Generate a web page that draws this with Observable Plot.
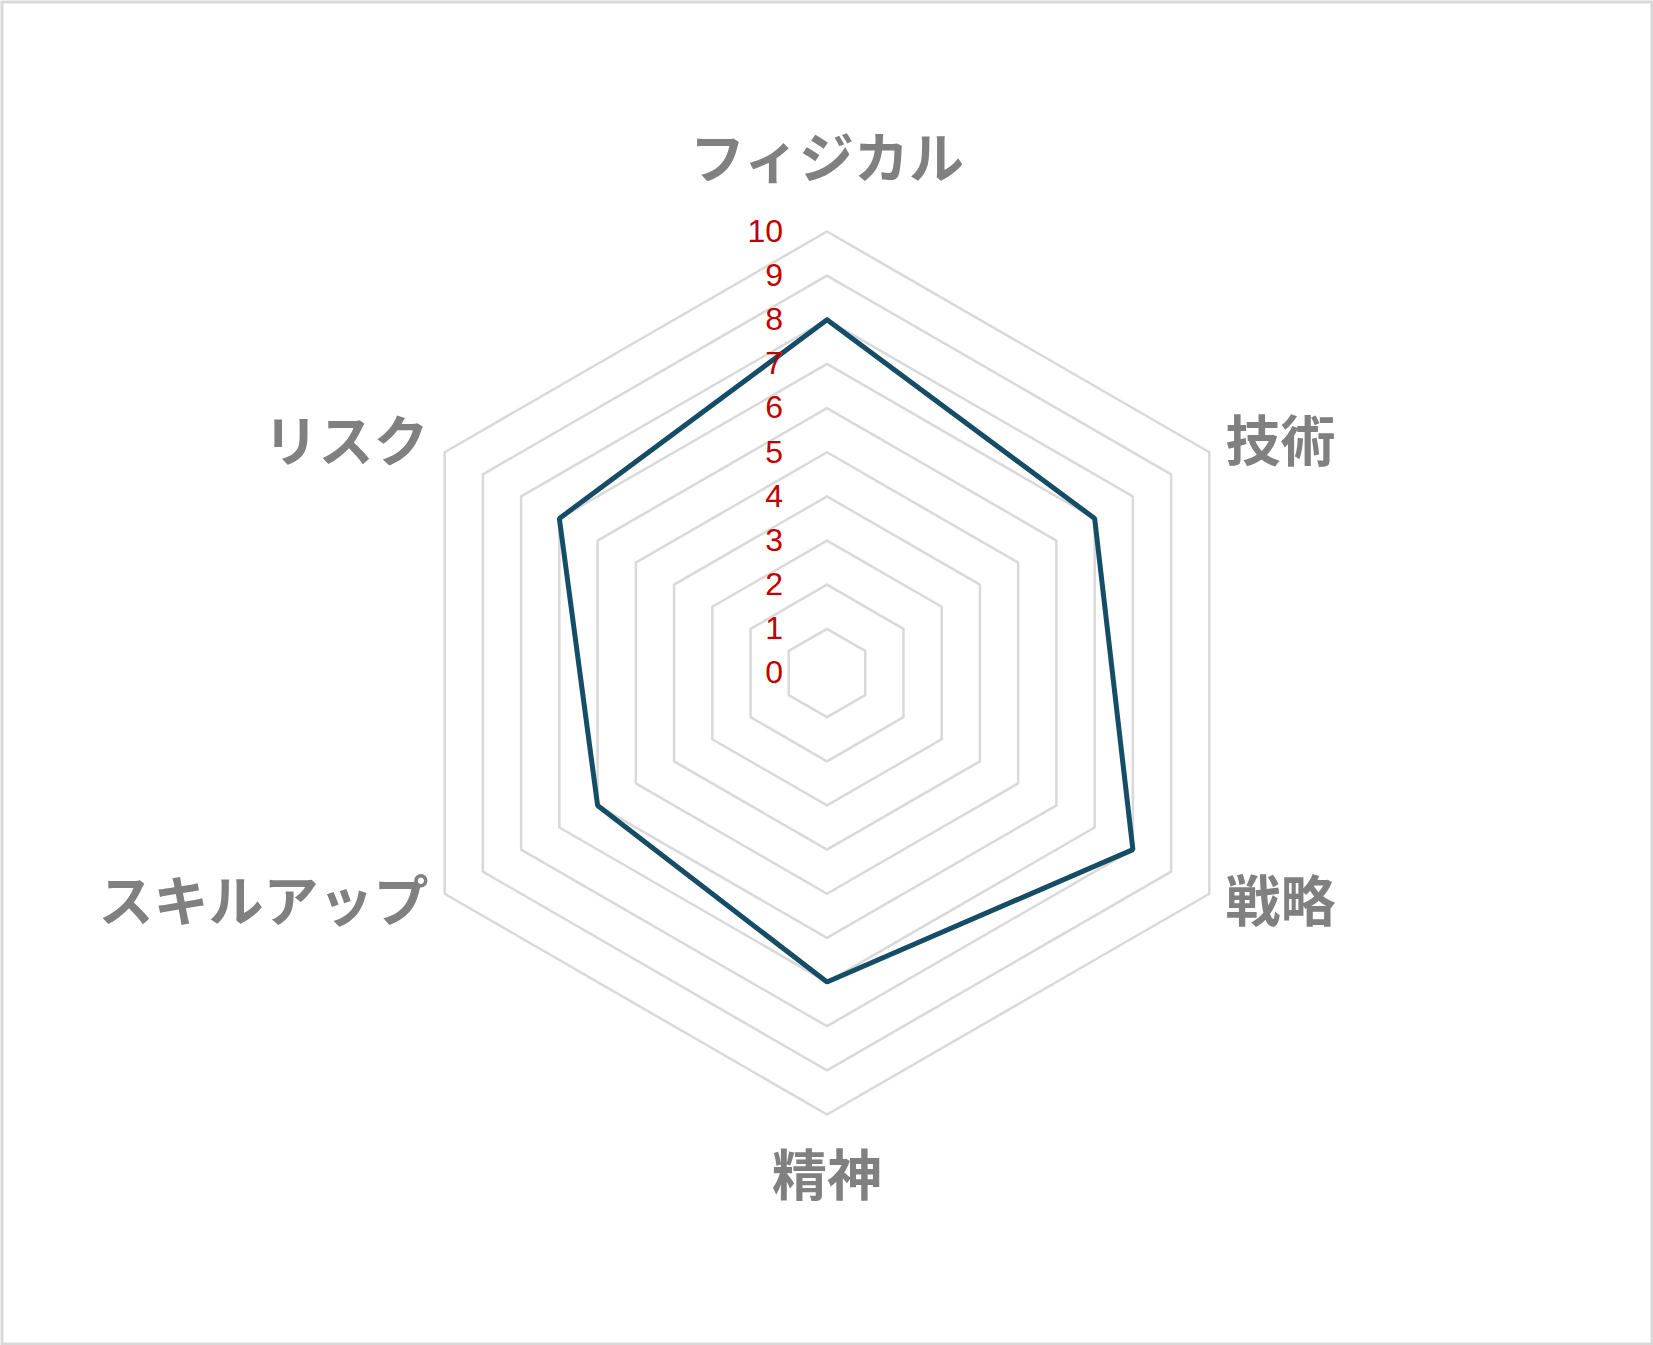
<!DOCTYPE html>
<html>
<head>
<meta charset="utf-8">
<script src="https://cdn.jsdelivr.net/npm/d3@7"></script>
<script src="https://cdn.jsdelivr.net/npm/@observablehq/plot@0.6"></script>
<style>
  html, body { margin: 0; padding: 0; background: #fff; }
  #chart svg { display: block; }
</style>
</head>
<body>
<div id="chart"></div>
<script>
const categories = ["フィジカル", "技術", "戦略", "精神", "スキルアップ", "リスク"];
const values = [8, 7, 8, 7, 6, 7];
const tickValues = [0, 1, 2, 3, 4, 5, 6, 7, 8, 9, 10];
const maxValue = 10;

const W = 1653, H = 1345;
const pxPerUnit = 44.15;
const n = categories.length;
const angle = i => (i * 2 * Math.PI) / n; // clockwise from top
const px = (r, i) => r * Math.sin(angle(i));
const py = (r, i) => r * Math.cos(angle(i));

// grid rings (levels 1..10)
const rings = [];
tickValues.filter(t => t > 0).forEach(t => {
  for (let i = 0; i <= n; i++) rings.push({ level: t, x: px(t, i % n), y: py(t, i % n) });
});

// data polygon
const series = [];
for (let i = 0; i <= n; i++) series.push({ x: px(values[i % n], i % n), y: py(values[i % n], i % n) });

// category labels
const labels = categories.map((c, i) => {
  const a = angle(i);
  const vertical = Math.abs(Math.sin(a)) < 0.01;
  const r = vertical ? (Math.cos(a) > 0 ? 11.6 : 11.43) : 10.42;
  return {
    label: c,
    x: px(r, i),
    y: py(r, i),
    anchor: vertical ? "middle" : (Math.sin(a) > 0 ? "start" : "end")
  };
});

const halfX = W / 2 / pxPerUnit;
const halfY = H / 2 / pxPerUnit;

const textOpts = {
  fontFamily: "'Noto Sans CJK JP', 'Noto Sans', sans-serif",
  fontSize: 55,
  fontWeight: "bold",
  fill: "#808080",
  lineAnchor: "middle"
};

const chart = Plot.plot({
  width: W,
  height: H,
  margin: 0,
  x: { domain: [-halfX, halfX], axis: null },
  y: { domain: [-halfY, halfY], axis: null },
  marks: [
    Plot.frame({ stroke: "#d9d9d9", strokeWidth: 3, inset: 1.5 }),
    Plot.line(rings, { x: "x", y: "y", z: "level", stroke: "#d9d9d9", strokeWidth: 2.5 }),
    Plot.line(series, { x: "x", y: "y", stroke: "#164d66", strokeWidth: 5, strokeLinejoin: "miter" }),
    Plot.text(tickValues, {
      x: 0, y: d => d, text: d => String(d),
      textAnchor: "end", dx: -44, fill: "#c00000",
      fontSize: 32, fontFamily: "'Liberation Sans', Arial, sans-serif",
      lineAnchor: "middle"
    }),
    Plot.text(labels.filter(d => d.anchor === "middle"), { x: "x", y: "y", text: "label", textAnchor: "middle", ...textOpts }),
    Plot.text(labels.filter(d => d.anchor === "start"), { x: "x", y: "y", text: "label", textAnchor: "start", ...textOpts }),
    Plot.text(labels.filter(d => d.anchor === "end"), { x: "x", y: "y", text: "label", textAnchor: "end", ...textOpts })
  ]
});
document.getElementById("chart").appendChild(chart);
</script>
</body>
</html>
